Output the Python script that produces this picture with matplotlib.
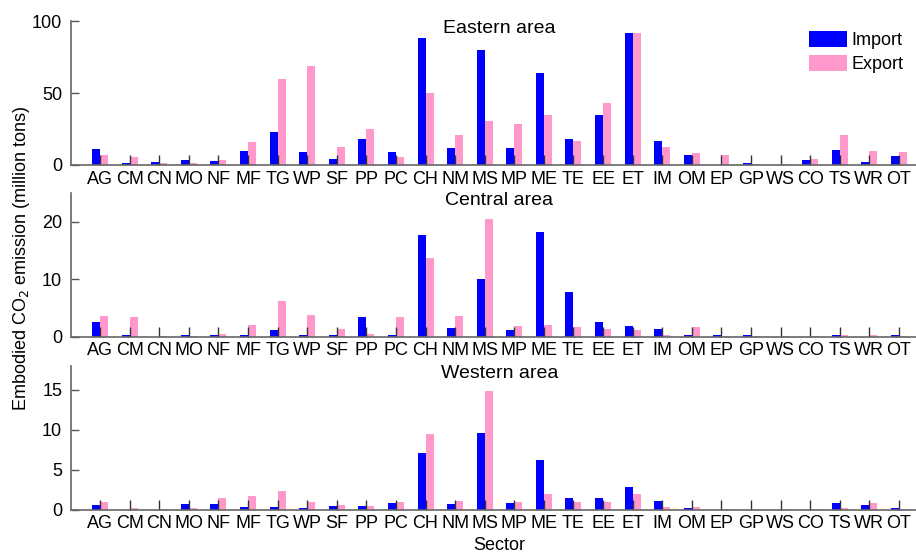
import numpy as np
import matplotlib
matplotlib.use("Agg")
import matplotlib.pyplot as plt

plt.rcParams['font.family'] = ['Liberation Sans', 'DejaVu Sans']

sectors = ["AG", "CM", "CN", "MO", "NF", "MF", "TG", "WP", "SF", "PP", "PC", "CH", "NM", "MS",
           "MP", "ME", "TE", "EE", "ET", "IM", "OM", "EP", "GP", "WS", "CO", "TS", "WR", "OT"]

eastern_import = [10.9, 1.2, 1.9, 3.5, 3.0, 9.5, 23.1, 8.8, 4.4, 18.1, 8.8, 88.0, 11.6, 79.6,
                  11.6, 64.1, 18.1, 34.7, 91.9, 16.7, 6.9, 0.0, 1.2, 0.0, 3.7, 10.2, 1.9, 6.5]
eastern_export = [6.9, 5.6, 1.2, 1.2, 3.5, 16.0, 60.0, 68.5, 12.3, 25.2, 5.8, 50.0, 20.6, 30.8,
                  28.2, 34.7, 16.4, 43.3, 91.9, 12.7, 8.3, 6.9, 0.5, 0.7, 4.4, 20.6, 9.5, 8.8]

central_import = [2.5, 0.23, 0.0, 0.35, 0.23, 0.35, 1.22, 0.35, 0.35, 3.5, 0.35, 17.7, 1.5, 10.06,
                  1.16, 18.2, 7.73, 2.6, 1.86, 1.34, 0.35, 0.23, 0.23, 0.0, 0.0, 0.23, 0.0, 0.23]
central_export = [3.66, 3.5, 0.1, 0.17, 0.52, 1.98, 6.2, 3.78, 1.34, 0.52, 3.5, 13.7, 3.66, 20.5,
                  1.86, 1.98, 1.63, 1.34, 1.16, 0.29, 1.69, 0.17, 0.1, 0.1, 0.1, 0.23, 0.35, 0.1]

western_import = [0.58, 0.0, 0.0, 0.7, 0.7, 0.33, 0.33, 0.2, 0.46, 0.46, 0.79, 7.05, 0.7, 9.6,
                  0.79, 6.26, 1.49, 1.49, 2.86, 1.12, 0.2, 0.0, 0.0, 0.0, 0.0, 0.79, 0.54, 0.2]
western_export = [0.91, 0.2, 0.1, 0.2, 1.49, 1.7, 2.32, 1.0, 0.54, 0.46, 1.0, 9.49, 1.12, 14.9,
                  0.91, 1.95, 0.91, 1.0, 1.95, 0.33, 0.33, 0.08, 0.08, 0.08, 0.08, 0.2, 0.79, 0.08]

panels = [
    ("Eastern area", eastern_import, eastern_export, 100, [0, 50, 100]),
    ("Central area", central_import, central_export, 25, [0, 10, 20]),
    ("Western area", western_import, western_export, 18, [0, 5, 10, 15]),
]

IMPORT_COLOR = "#0000ff"
EXPORT_COLOR = "#ff99cc"
W, H = 916, 553
fig = plt.figure(figsize=(W / 100, H / 100), dpi=100)

# axes geometry in pixels: (top, bottom)
rows = [(21, 165), (193, 336.7), (366, 509.7)]
left_px, right_px = 70.5, 928.5

x = np.arange(1, len(sectors) + 1)
bw = 0.27
fs = 13
axes = []
for (title, imp, exp, ymax, yt), (top, bot) in zip(panels, rows):
    ax = fig.add_axes([left_px / W, 1 - bot / H, (right_px - left_px) / W, (bot - top) / H])
    ax.bar(x - bw / 2, imp, width=bw, color=IMPORT_COLOR, label="Import", linewidth=0)
    ax.bar(x + bw / 2, exp, width=bw, color=EXPORT_COLOR, label="Export", linewidth=0)
    ax.set_xlim(0, 29)
    ax.set_ylim(0, ymax)
    ax.set_yticks(yt)
    ax.set_xticks(x)
    ax.set_xticklabels(sectors, fontsize=fs)
    ax.tick_params(axis='y', labelsize=fs, direction='in', length=6, width=1,
                   color='#555555', pad=6)
    ax.tick_params(axis='x', direction='in', length=7, width=1, color='#333333', pad=4)
    for s in ("top", "right"):
        ax.spines[s].set_visible(False)
    for s in ("left", "bottom"):
        ax.spines[s].set_color('#666666')
        ax.spines[s].set_linewidth(1.2)
    ax.text(0.5, 0.945, title, transform=ax.transAxes, ha='center', va='center',
            fontsize=14)
    axes.append(ax)

axes[0].legend(loc='upper left', bbox_to_anchor=(809 / W, 1 - 31 / H),
               bbox_transform=fig.transFigure, frameon=False, fontsize=fs,
               handlelength=2.1, handleheight=1.0, handletextpad=0.25,
               labelspacing=0.3, borderpad=0, borderaxespad=0)

fig.text(22 / W, 1 - 258 / H, "Embodied CO$_2$ emission (million tons)", rotation=90,
         ha='center', va='center', fontsize=fs)
fig.text(499.5 / W, 1 - 546 / H, "Sector", ha='center', va='center', fontsize=fs)

fig.savefig("out.png", dpi=100)
